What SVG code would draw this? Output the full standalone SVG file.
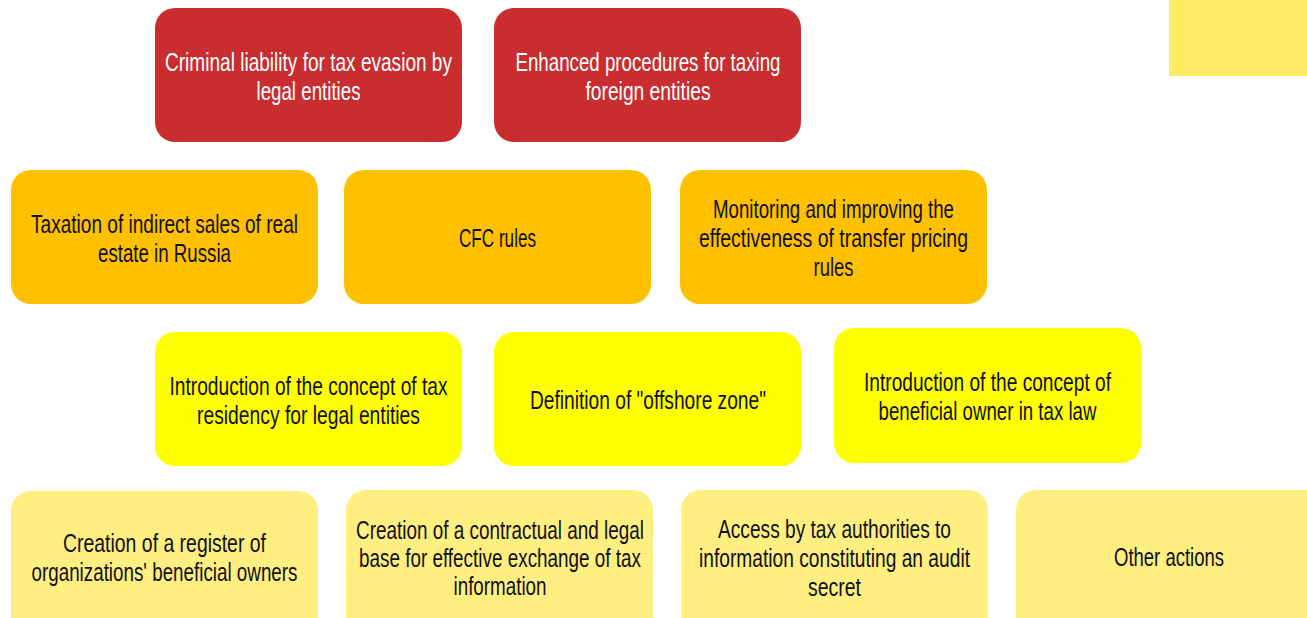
<svg xmlns="http://www.w3.org/2000/svg" width="1307" height="618" viewBox="0 0 1307 618">
  <style>
    .box { rx: 20px; ry: 20px; }
    .red { fill: #C92D2F; }
    .orange { fill: #FFC000; }
    .yellow { fill: #FFFF00; }
    .pale { fill: #FFEF80; }
    text { font-family: "Liberation Sans", "DejaVu Sans Condensed", sans-serif; font-size: 25px; text-anchor: middle; }
    .light { fill: #FFFFFF; }
    .dark { fill: #111111; }
  </style>
  <rect width="1307" height="618" fill="#FFFFFF"/>

  <!-- corner tab -->
  <rect x="1169" y="0" width="138" height="76" fill="#FEEA64"/>

  <!-- row 1 -->
  <g id="criminal-liability">
    <rect class="box red" x="155" y="8" width="307" height="134"/>
    <text class="light" x="308.5" y="70.5" textLength="287" lengthAdjust="spacingAndGlyphs">Criminal liability for tax evasion by</text>
    <text class="light" x="308.5" y="99.5" textLength="104" lengthAdjust="spacingAndGlyphs">legal entities</text>
  </g>
  <g id="foreign-entities">
    <rect class="box red" x="494" y="8" width="307" height="134"/>
    <text class="light" x="648" y="70.5" textLength="265" lengthAdjust="spacingAndGlyphs">Enhanced procedures for taxing</text>
    <text class="light" x="648" y="99.5" textLength="125" lengthAdjust="spacingAndGlyphs">foreign entities</text>
  </g>

  <!-- row 2 -->
  <g id="indirect-sales">
    <rect class="box orange" x="11" y="170" width="307" height="134"/>
    <text class="dark" x="164.5" y="232.5" textLength="267" lengthAdjust="spacingAndGlyphs">Taxation of indirect sales of real</text>
    <text class="dark" x="164.5" y="261.5" textLength="133" lengthAdjust="spacingAndGlyphs">estate in Russia</text>
  </g>
  <g id="cfc-rules">
    <rect class="box orange" x="344" y="170" width="307" height="134"/>
    <text class="dark" x="497.5" y="247" textLength="77" lengthAdjust="spacingAndGlyphs">CFC rules</text>
  </g>
  <g id="transfer-pricing">
    <rect class="box orange" x="680" y="170" width="307" height="134"/>
    <text class="dark" x="833.5" y="218" textLength="241" lengthAdjust="spacingAndGlyphs">Monitoring and improving the</text>
    <text class="dark" x="833.5" y="247" textLength="269" lengthAdjust="spacingAndGlyphs">effectiveness of transfer pricing</text>
    <text class="dark" x="833.5" y="276" textLength="40" lengthAdjust="spacingAndGlyphs">rules</text>
  </g>

  <!-- row 3 -->
  <g id="tax-residency">
    <rect class="box yellow" x="155" y="332" width="307" height="134"/>
    <text class="dark" x="308.5" y="394.5" textLength="278" lengthAdjust="spacingAndGlyphs">Introduction of the concept of tax</text>
    <text class="dark" x="308.5" y="423.5" textLength="223" lengthAdjust="spacingAndGlyphs">residency for legal entities</text>
  </g>
  <g id="offshore-zone">
    <rect class="box yellow" x="494" y="332" width="307" height="134"/>
    <text class="dark" x="648" y="409" textLength="236" lengthAdjust="spacingAndGlyphs">Definition of "offshore zone"</text>
  </g>
  <g id="beneficial-owner">
    <rect class="box yellow" x="834" y="328" width="307" height="135"/>
    <text class="dark" x="987.5" y="391" textLength="247" lengthAdjust="spacingAndGlyphs">Introduction of the concept of</text>
    <text class="dark" x="987.5" y="420" textLength="218" lengthAdjust="spacingAndGlyphs">beneficial owner in tax law</text>
  </g>

  <!-- row 4 -->
  <g id="owners-register">
    <rect class="box pale" x="11" y="491" width="307" height="147"/>
    <text class="dark" x="164.5" y="552" textLength="203" lengthAdjust="spacingAndGlyphs">Creation of a register of</text>
    <text class="dark" x="164.5" y="581" textLength="266" lengthAdjust="spacingAndGlyphs">organizations' beneficial owners</text>
  </g>
  <g id="information-exchange">
    <rect class="box pale" x="346" y="490" width="307" height="148"/>
    <text class="dark" x="500" y="539" textLength="288" lengthAdjust="spacingAndGlyphs">Creation of a contractual and legal</text>
    <text class="dark" x="500" y="567" textLength="282" lengthAdjust="spacingAndGlyphs">base for effective exchange of tax</text>
    <text class="dark" x="500" y="595" textLength="93" lengthAdjust="spacingAndGlyphs">information</text>
  </g>
  <g id="audit-secret">
    <rect class="box pale" x="681" y="490" width="307" height="148"/>
    <text class="dark" x="834.5" y="538" textLength="233" lengthAdjust="spacingAndGlyphs">Access by tax authorities to</text>
    <text class="dark" x="834.5" y="567" textLength="271" lengthAdjust="spacingAndGlyphs">information constituting an audit</text>
    <text class="dark" x="834.5" y="596" textLength="53" lengthAdjust="spacingAndGlyphs">secret</text>
  </g>
  <g id="other-actions">
    <rect class="box pale" x="1016" y="490" width="320" height="148"/>
    <text class="dark" x="1169" y="566" textLength="110" lengthAdjust="spacingAndGlyphs">Other actions</text>
  </g>

  <!-- no connectors between the tiles -->
  <g id="connectors"/>
</svg>
